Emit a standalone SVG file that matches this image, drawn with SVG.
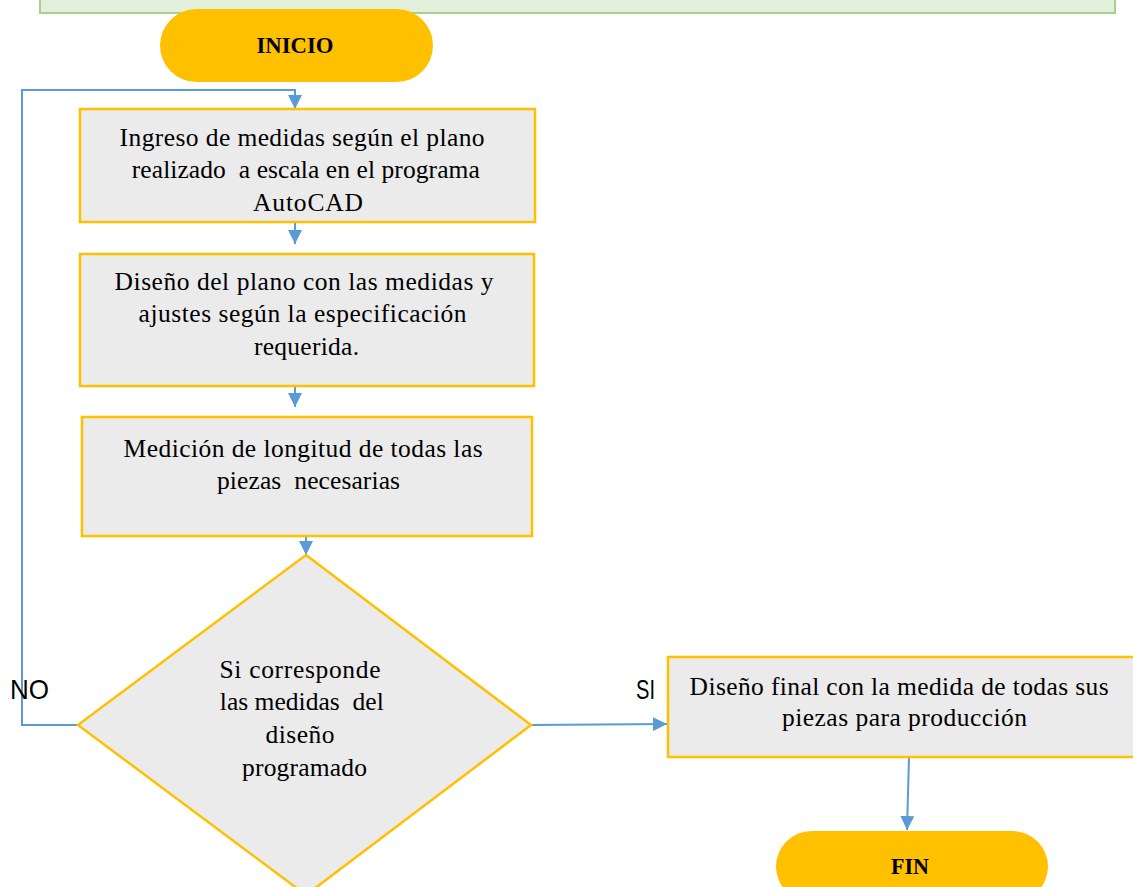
<svg xmlns="http://www.w3.org/2000/svg" width="1133" height="887" viewBox="0 0 1133 887">
  <defs>
    <style>
      .banner { fill: #e2efda; stroke: #a9d18e; stroke-width: 2; }
      .term { fill: #ffc000; }
      .proc { fill: #ebebeb; stroke: #ffc000; stroke-width: 2.5; }
      .conn { fill: none; stroke: #5b9bd5; stroke-width: 2; }
      .txt { font-family: "Liberation Serif", "Times New Roman", serif; font-size: 25.5px; fill: #000; }
      .ttl { font-family: "Liberation Serif", "Times New Roman", serif; font-size: 24px; font-weight: bold; fill: #000; }
      .lbl { font-family: "Liberation Sans", Arial, sans-serif; font-size: 28px; fill: #000; }
    </style>
    <marker id="arrow" viewBox="0 0 10 10" refX="10" refY="5" markerWidth="7" markerHeight="7" markerUnits="strokeWidth" orient="auto">
      <path d="M0,0 L10,5 L0,10 z" fill="#5b9bd5"/>
    </marker>
  </defs>

  <rect width="1133" height="887" fill="#ffffff"/>

  <!-- title banner at the top -->
  <rect class="banner" x="40" y="-20" width="1075" height="33"/>

  <!-- connectors -->
  <g id="connectors">
    <path class="conn" d="M78,725 H22 V90 H295 V109" marker-end="url(#arrow)"/>
    <path class="conn" d="M295,222 V244" marker-end="url(#arrow)"/>
    <path class="conn" d="M295,386 V407" marker-end="url(#arrow)"/>
    <path class="conn" d="M306,536 V555" marker-end="url(#arrow)"/>
    <path class="conn" d="M531,725 L667,724" marker-end="url(#arrow)"/>
    <path class="conn" d="M909,757 L907,830" marker-end="url(#arrow)"/>
  </g>

  <g id="inicio">
    <rect class="term" x="160" y="9" width="273" height="73" rx="36.5" ry="36.5"/>
    <text class="ttl" x="295" y="53" text-anchor="middle" textLength="77" lengthAdjust="spacingAndGlyphs">INICIO</text>
  </g>

  <g id="ingreso">
    <rect class="proc" x="80" y="109" width="455" height="113"/>
    <text class="txt" text-anchor="middle">
      <tspan x="305.5" y="146" textLength="365" lengthAdjust="spacing">Ingreso de medidas según el plano</tspan>
      <tspan x="309" y="178" textLength="348" lengthAdjust="spacing">realizado &#160;a escala en el programa</tspan>
      <tspan x="308" y="211" textLength="110" lengthAdjust="spacing">AutoCAD</tspan>
    </text>
  </g>

  <g id="diseno">
    <rect class="proc" x="80" y="254" width="454" height="132"/>
    <text class="txt" text-anchor="middle">
      <tspan x="307.5" y="290" textLength="379" lengthAdjust="spacing">Diseño del plano con las medidas y</tspan>
      <tspan x="306" y="322" textLength="328" lengthAdjust="spacing">ajustes según la especificación</tspan>
      <tspan x="306.5" y="355" textLength="105" lengthAdjust="spacing">requerida.</tspan>
    </text>
  </g>

  <g id="medicion">
    <rect class="proc" x="82" y="417" width="450" height="119"/>
    <text class="txt" text-anchor="middle">
      <tspan x="306.5" y="457" textLength="359" lengthAdjust="spacing">Medición de longitud de todas las</tspan>
      <tspan x="308.5" y="489" textLength="183" lengthAdjust="spacing">piezas &#160;necesarias</tspan>
    </text>
  </g>

  <g id="decision">
    <polygon class="proc" points="306,555 531,725 306,895 78,725"/>
    <text class="txt" text-anchor="middle">
      <tspan x="303.5" y="678" textLength="161" lengthAdjust="spacing">Si corresponde</tspan>
      <tspan x="305" y="710" textLength="164" lengthAdjust="spacing">las medidas &#160;del</tspan>
      <tspan x="303.5" y="743" textLength="69" lengthAdjust="spacing">diseño</tspan>
      <tspan x="304.5" y="776" textLength="125" lengthAdjust="spacing">programado</tspan>
    </text>
  </g>

  <g id="labels">
    <text class="lbl" x="10" y="699" textLength="39" lengthAdjust="spacingAndGlyphs">NO</text>
    <text class="lbl" x="636" y="699" textLength="19" lengthAdjust="spacingAndGlyphs">SI</text>
  </g>

  <g id="final">
    <rect class="proc" x="668" y="657" width="475" height="100"/>
    <text class="txt" text-anchor="middle">
      <tspan x="902.5" y="695" textLength="419" lengthAdjust="spacing">Diseño final con la medida de todas sus</tspan>
      <tspan x="904.5" y="726" textLength="245" lengthAdjust="spacing">piezas para producción</tspan>
    </text>
  </g>

  <g id="fin">
    <rect class="term" x="776" y="831" width="272" height="71" rx="35.5" ry="35.5"/>
    <text class="ttl" x="910" y="874" text-anchor="middle" textLength="38" lengthAdjust="spacingAndGlyphs">FIN</text>
  </g>
</svg>
